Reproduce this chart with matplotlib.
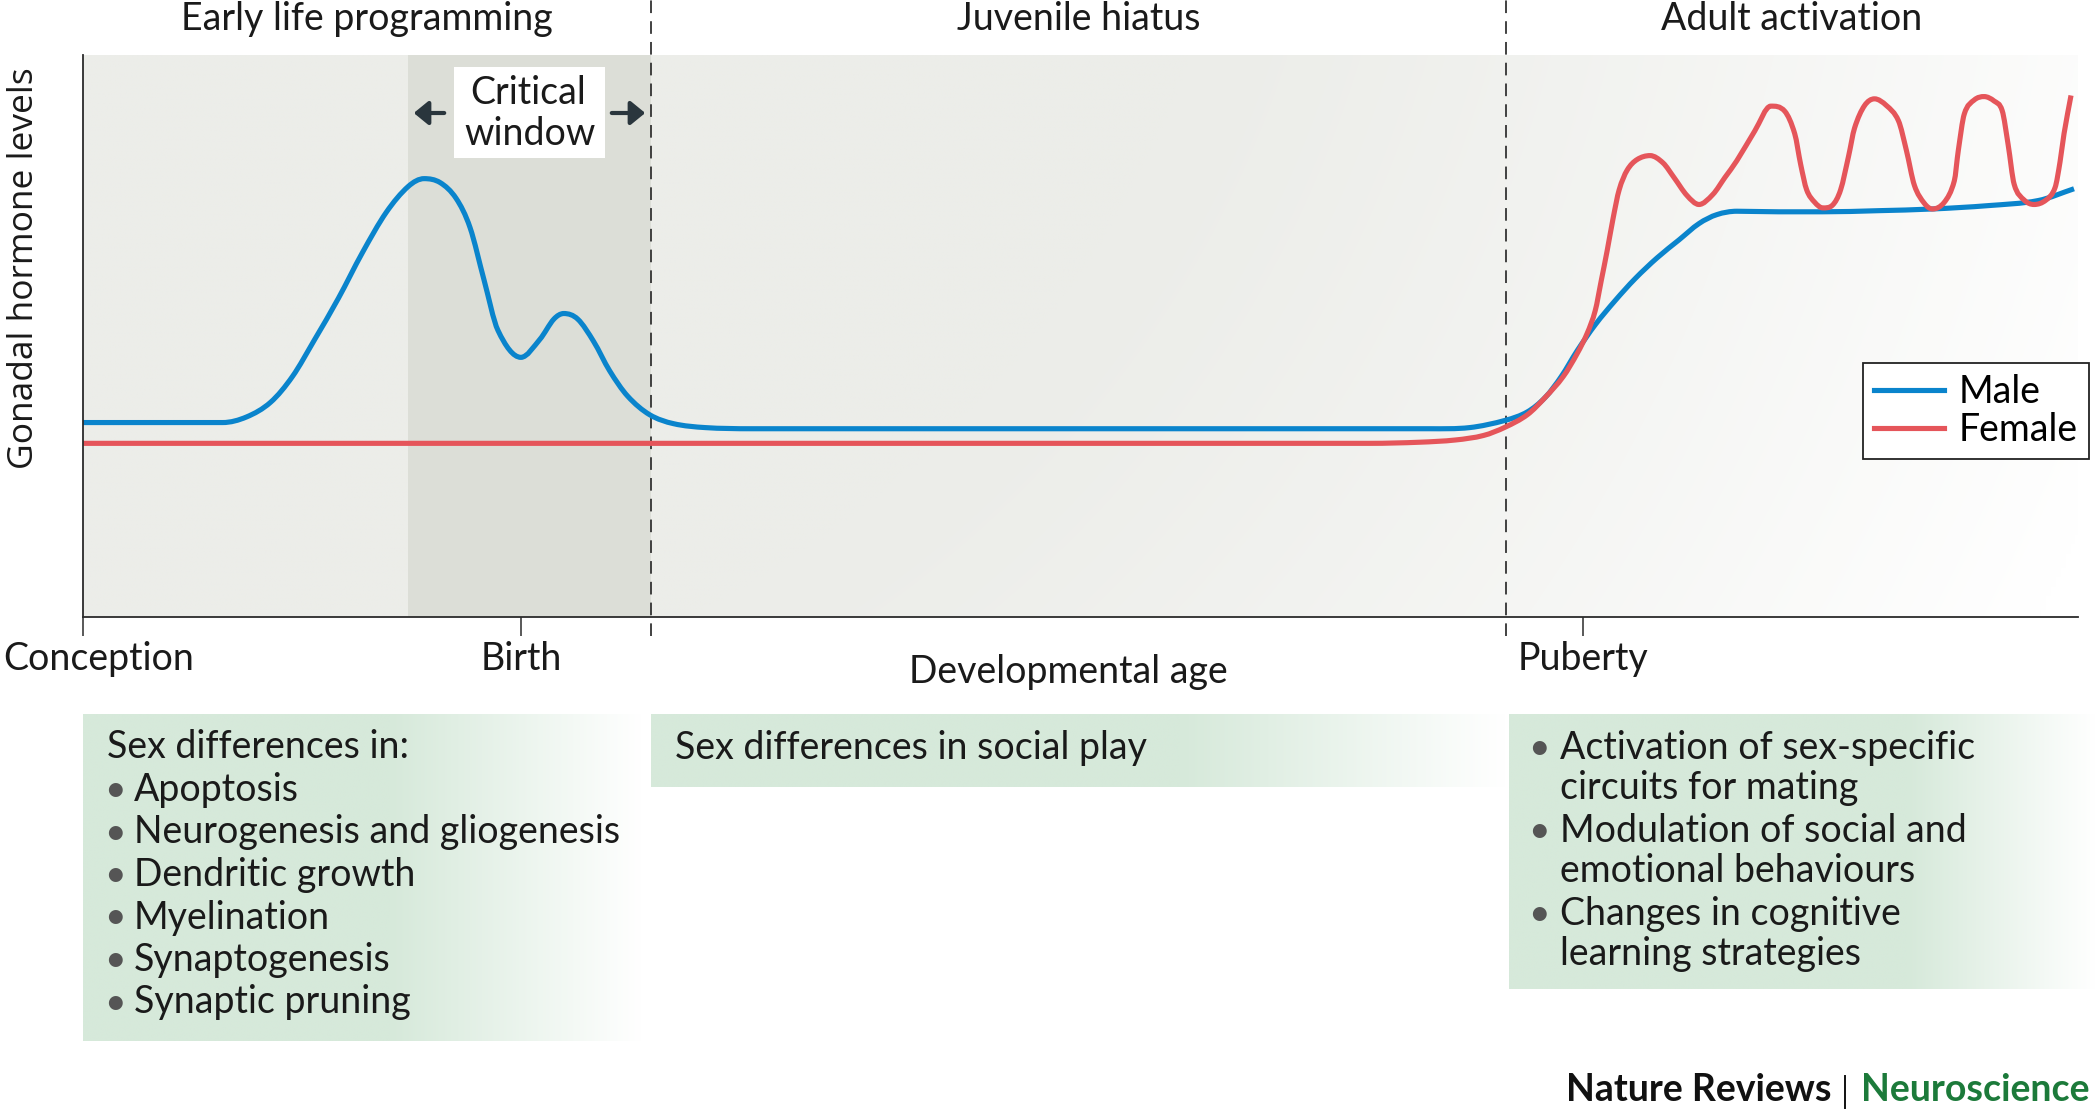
import numpy as np
import matplotlib
matplotlib.use("Agg")
import matplotlib.pyplot as plt
import matplotlib.transforms as mtransforms
from matplotlib.path import Path
from matplotlib.patches import PathPatch, FancyArrowPatch
from matplotlib.lines import Line2D

plt.rcParams['font.family'] = ['Lato', 'DejaVu Sans']

# ---------------- data ----------------
# x: developmental age (0 = conception, 100 = end of axis); y: hormone level (0-1)
male_x = [0, 7.0, 8.2, 9.4, 10.5, 11.6, 12.8, 14.0, 15.2, 16.3, 17.1, 17.9, 18.7,
          19.4, 20.1, 20.8, 21.95, 22.9, 23.6, 24.1, 24.8, 25.6, 26.4, 27.3, 28.4,
          29.6, 31.2, 33.5, 67.5, 69.5,
          71.3, 72.4, 73.3, 74.1, 74.9, 75.8, 76.8, 77.8, 78.9, 80.0, 81.0, 81.9,
          82.9, 85.0, 87.2, 90.0, 92.7, 95.5, 98.0, 99.8]
male_y = [0.346, 0.346, 0.356, 0.382, 0.428, 0.493, 0.567, 0.648, 0.720, 0.766, 0.780,
          0.773, 0.745, 0.693, 0.600, 0.510, 0.462, 0.494, 0.530, 0.540, 0.530, 0.490,
          0.438, 0.393, 0.360, 0.344, 0.337, 0.335, 0.335, 0.337,
          0.350, 0.365, 0.391, 0.428, 0.474, 0.520, 0.563, 0.602, 0.639, 0.671, 0.700,
          0.716, 0.722, 0.721, 0.721, 0.723, 0.726, 0.732, 0.741, 0.762]

female_x = [0, 64.5, 67.0, 68.8, 70.2, 71.3, 72.4, 73.3, 74.2, 74.9, 75.4, 75.8, 76.1,
            76.4, 76.7, 77.0, 77.4, 77.9, 78.55, 79.2, 79.75, 80.4, 81.0, 81.7, 82.3,
            82.9, 83.8, 84.6, 85.3, 85.8, 86.1, 86.4, 86.8, 87.2, 87.7, 88.1, 88.5,
            88.8, 89.3, 89.8, 90.4, 91.0, 91.4, 91.8, 92.3, 92.7, 93.3, 93.8, 94.0,
            94.3, 94.8, 95.3, 95.8, 96.2, 96.5, 96.8, 97.3, 97.8, 98.4, 98.85, 99.1,
            99.3, 99.65]
female_y = [0.309, 0.309, 0.311, 0.315, 0.323, 0.338, 0.360, 0.391, 0.428, 0.469,
            0.505, 0.545, 0.598, 0.652, 0.710, 0.760, 0.795, 0.814, 0.821, 0.808,
            0.782, 0.750, 0.734, 0.752, 0.782, 0.812, 0.865, 0.909, 0.900, 0.860,
            0.805, 0.760, 0.738, 0.728, 0.733, 0.760, 0.820, 0.870, 0.910, 0.922,
            0.910, 0.883, 0.830, 0.768, 0.736, 0.726, 0.738, 0.776, 0.830, 0.895,
            0.920, 0.926, 0.918, 0.901, 0.840, 0.770, 0.742, 0.734, 0.742, 0.764,
            0.810, 0.860, 0.928]

phase_labels = ["Early life programming", "Juvenile hiatus", "Adult activation"]
phase_bounds = [0, 28.47, 71.33, 100]
critical_window = [16.3, 28.47]
tick_positions = [0, 21.95, 75.2]
tick_labels = ["Conception", "Birth", "Puberty"]
series_labels = ["Male", "Female"]

box1_header = "Sex differences in:"
box1_items = ["Apoptosis", "Neurogenesis and gliogenesis", "Dendritic growth",
              "Myelination", "Synaptogenesis", "Synaptic pruning"]
box2_text = "Sex differences in social play"
box3_items = [["Activation of sex-specific", "circuits for mating"],
              ["Modulation of social and", "emotional behaviours"],
              ["Changes in cognitive", "learning strategies"]]

# ---------------- style ----------------
W, H = 2100, 1115
BLUE = "#0a84cc"
RED = "#e5555a"
GRAY = np.array([236, 237, 233]) / 255.0
CRIT = "#dadcd4"
GREEN = np.array([214, 233, 218]) / 255.0
TXT = "#1a1a1a"
FS = 27

fig = plt.figure(figsize=(W / 100, H / 100), dpi=100)
fig.patch.set_facecolor("white")

AX_L, AX_R, AX_T, AX_B = 83, 2078, 55, 617
ax = fig.add_axes([AX_L / W, 1 - AX_B / H, (AX_R - AX_L) / W, (AX_B - AX_T) / H])
ax.set_xlim(0, 100)
ax.set_ylim(0, 1)

# overlay in pixel coordinates for annotations
ov = fig.add_axes([0, 0, 1, 1], zorder=-1)
ov.set_xlim(0, W)
ov.set_ylim(H, 0)
ov.axis("off")

# --- panel background: radial gray-to-white gradient ---
nx, ny = 400, 120
gx = np.linspace(AX_L, AX_R, nx)
gy = np.linspace(AX_T, AX_B, ny)
GX, GY = np.meshgrid(gx, gy)
d = np.hypot(GX - 250, (GY - 950) * 1.0)
t = np.clip((d - 1000) / 1000, 0, 1) ** 1.2
img = GRAY[None, None, :] * (1 - t[..., None]) + np.ones(3)[None, None, :] * t[..., None]
ax.imshow(img, extent=(0, 100, 1, 0), aspect="auto", zorder=0, interpolation="bilinear")
ax.set_ylim(0, 1)
ax.patch.set_alpha(0)

# critical window shading
ax.axvspan(critical_window[0], critical_window[1], color=CRIT, alpha=0.85, lw=0, zorder=1)

# phase separators
for xb in phase_bounds[1:3]:
    ax.axvline(xb, ymin=-0.034, ymax=1.1, color="#333333", lw=1.3,
               dashes=(7, 4.5), clip_on=False, zorder=2)


# ---------------- smooth curves (cubic Hermite rendered as Bezier) ----------------
def smooth_path(xs, ys):
    x = np.asarray(xs, float)
    y = np.asarray(ys, float)
    h = np.diff(x)
    dlt = np.diff(y) / h
    n = len(x)
    m = np.zeros(n)
    m[0], m[-1] = dlt[0], dlt[-1]
    for k in range(1, n - 1):
        if dlt[k - 1] * dlt[k] <= 0:
            m[k] = 0.0
        else:
            m[k] = (y[k + 1] - y[k - 1]) / (x[k + 1] - x[k - 1])
    verts = [(x[0], y[0])]
    codes = [Path.MOVETO]
    for k in range(n - 1):
        verts += [(x[k] + h[k] / 3, y[k] + m[k] * h[k] / 3),
                  (x[k + 1] - h[k] / 3, y[k + 1] - m[k + 1] * h[k] / 3),
                  (x[k + 1], y[k + 1])]
        codes += [Path.CURVE4] * 3
    return Path(verts, codes)


ax.add_patch(PathPatch(smooth_path(female_x, female_y), fill=False, edgecolor=RED,
                       lw=3.7, capstyle="butt", joinstyle="round", zorder=4))
ax.add_patch(PathPatch(smooth_path(male_x, male_y), fill=False, edgecolor=BLUE,
                       lw=3.7, capstyle="butt", joinstyle="round", zorder=3))

# axes styling
for s in ["top", "right"]:
    ax.spines[s].set_visible(False)
for s in ["left", "bottom"]:
    ax.spines[s].set_color("#2b2b2b")
    ax.spines[s].set_linewidth(1.3)
    ax.spines[s].set_zorder(5)
ax.set_yticks([])
ax.set_xticks(tick_positions)
ax.set_xticklabels(tick_labels, fontsize=FS, color=TXT)
ax.tick_params(axis="x", length=14, width=1.1, color="#2b2b2b", pad=3, direction="out")
first = ax.get_xticklabels()[0]
first.set_horizontalalignment("left")
first.set_transform(first.get_transform() +
                    mtransforms.ScaledTranslation(-0.80, 0, fig.dpi_scale_trans))

ax.text(-0.0296, 0.62, "Gonadal hormone levels", rotation=90, transform=ax.transAxes,
        ha="center", va="center", fontsize=25.5, color=TXT, family=["Open Sans", "DejaVu Sans"])
ax.text(0.494, -0.117, "Developmental age", transform=ax.transAxes, ha="center",
        va="baseline", fontsize=FS, color=TXT)

for i, lab in enumerate(phase_labels):
    xc = (phase_bounds[i] + phase_bounds[i + 1]) / 2
    ax.text(xc, 1.044, lab, transform=ax.get_xaxis_transform(), ha="center",
            va="baseline", fontsize=FS, color=TXT)

# legend
handles = [Line2D([], [], color=BLUE, lw=3.7), Line2D([], [], color=RED, lw=3.7)]
leg = ax.legend(handles, series_labels, loc="upper right",
                bbox_to_anchor=(2089 / W, 1 - 363 / H), bbox_transform=fig.transFigure,
                fontsize=FS, frameon=True, fancybox=False, edgecolor="#222222",
                framealpha=1, handlelength=1.85, handletextpad=0.4, borderpad=0.3,
                labelspacing=0.05, borderaxespad=0)
leg.get_frame().set_linewidth(1.3)
leg.set_zorder(6)

# critical window label (pixel coords on a top overlay)
top = fig.add_axes([0, 0, 1, 1], zorder=5)
top.set_xlim(0, W)
top.set_ylim(H, 0)
top.axis("off")
top.add_patch(plt.Rectangle((454, 67), 151, 91, facecolor="white", edgecolor="none"))
top.text(528, 104, "Critical", ha="center", va="baseline", fontsize=FS, color=TXT)
top.text(530, 145, "window", ha="center", va="baseline", fontsize=FS, color=TXT)
for x0, x1 in [(447, 411), (609, 648)]:
    top.add_patch(FancyArrowPatch((x0, 113), (x1, 113), arrowstyle="-|>,head_length=5.5,head_width=4.5",
                                  mutation_scale=1.6, lw=3, color="#2a363d"))


# ---------------- text boxes with fading green ----------------
def grad_box(x0, x1, y0, y1, fade_start):
    n = 300
    xs = np.linspace(0, 1, n)
    tt = np.clip((xs - fade_start) / (1 - fade_start), 0, 1)
    row = GREEN[None, :] * (1 - tt[:, None]) + np.ones(3)[None, :] * tt[:, None]
    im = np.repeat(row[None, :, :], 2, axis=0)
    ov.imshow(im, extent=(x0, x1, y1, y0), aspect="auto", interpolation="bilinear", zorder=1)


grad_box(83, 642, 714, 1041, 0.55)
grad_box(651, 1506, 714, 787, 0.62)
grad_box(1509, 2096, 714, 989, 0.68)
ov.set_xlim(0, W)
ov.set_ylim(H, 0)

BUL = "#555555"
ov.text(107, 758, box1_header, fontsize=FS, color=TXT, va="baseline", zorder=3)
for i, item in enumerate(box1_items):
    yb = 801 + i * 42.5
    ov.text(104, yb, "\u2022", fontsize=FS, color=BUL, va="baseline", zorder=3)
    ov.text(134, yb, item, fontsize=FS, color=TXT, va="baseline", zorder=3)

ov.text(675, 759, box2_text, fontsize=FS, color=TXT, va="baseline", zorder=3)

yb = 759
for item in box3_items:
    ov.text(1528, yb, "\u2022", fontsize=FS, color=BUL, va="baseline", zorder=3)
    for j, line in enumerate(item):
        ov.text(1560, yb, line, fontsize=FS, color=TXT, va="baseline", zorder=3)
        yb += 40 if j == 0 else 43

# footer
top.text(1831, 1101, "Nature Reviews", ha="right", va="baseline", fontsize=27,
         fontweight="bold", color="#111111")
top.plot([1845, 1845], [1076, 1108], color="#111111", lw=1.4)
top.set_xlim(0, W)
top.set_ylim(H, 0)
top.text(1861, 1101, "Neuroscience", ha="left", va="baseline", fontsize=27,
         fontweight="bold", color="#1c7a3a")

fig.savefig("out.png", dpi=100, facecolor="white")
